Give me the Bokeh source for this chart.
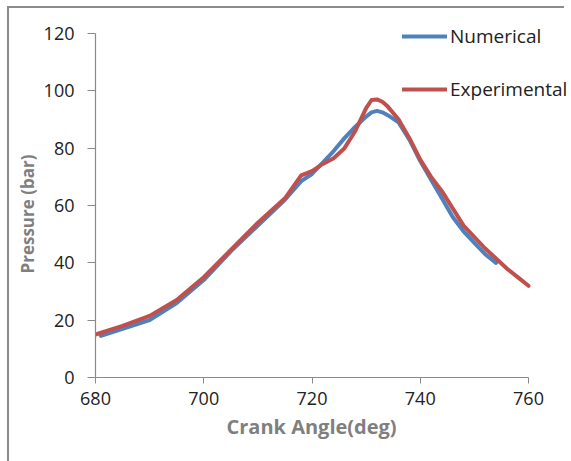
from bokeh.plotting import figure
from bokeh.models import FixedTicker, Range1d, Legend, LegendItem, Title
from bokeh.embed import file_html
from bokeh.resources import INLINE

# Numerical (simulation) pressure vs crank angle
num_angle = [681, 685, 690, 695, 700, 705, 710, 715, 718, 720, 722, 724, 726, 728,
             730, 731, 732, 733, 734, 736, 738, 740, 742, 744, 746, 748, 750, 752, 754]
num_pressure = [14.5, 17.0, 20.0, 26.0, 34.0, 44.0, 53.0, 62.0, 68.5, 71.0, 75.0, 79.0, 83.5, 87.5,
                91.0, 92.5, 93.0, 92.5, 91.5, 89.0, 83.0, 75.5, 69.0, 62.5, 56.0, 51.0, 47.0, 43.0, 40.0]

# Experimental pressure vs crank angle
exp_angle = [680, 685, 690, 695, 700, 705, 710, 715, 718, 720, 722, 724, 726, 728,
             730, 731, 732, 733, 734, 736, 738, 740, 742, 744, 746, 748, 750, 752, 754, 756, 758, 760]
exp_pressure = [15.0, 18.0, 21.5, 27.0, 35.0, 44.5, 54.0, 62.5, 70.5, 72.0, 74.5, 76.5, 80.0, 86.0,
                94.0, 96.8, 97.0, 96.2, 94.5, 90.0, 83.5, 76.0, 70.0, 65.0, 59.0, 53.0, 49.0, 45.0, 41.5, 38.0, 35.0, 32.0]

x_ticks = [680, 700, 720, 740, 760]
y_ticks = [0, 20, 40, 60, 80, 100, 120]

FONT = "Open Sans"

# the axes cover 680..760 and 0..120; the plotting frame is a little larger
# (right and top) so that the legend text is not cut off by it
px_per_deg = 433 / 80
px_per_bar = 344 / 120
x_end = 680 + (571 - 95) / px_per_deg
y_end = 120 + (33 - 6) / px_per_bar

p = figure(width=562, height=455, output_backend="svg", toolbar_location=None,
           x_range=Range1d(680, x_end), y_range=Range1d(0, y_end),
           min_border_left=86, min_border_right=0, min_border_top=0, min_border_bottom=84)
p.styles = {"margin-left": "7px", "margin-top": "6px",
            "border-left": "2px solid #8c8c8c",
            "background": "linear-gradient(#8c8c8c, #8c8c8c) top left / 555px 2px no-repeat"}

p.grid.visible = False
p.outline_line_color = None
p.background_fill_alpha = 0
p.border_fill_alpha = 0

for ax in (p.xaxis[0], p.yaxis[0]):
    ax.axis_line_color = "#8a8a8a"
    ax.axis_line_width = 1.2
    ax.major_tick_line_color = "#8a8a8a"
    ax.major_tick_in = 0
    ax.minor_tick_line_color = None
    ax.major_label_text_font = FONT
    ax.major_label_text_font_size = "18px"
    ax.major_label_text_color = "#222222"

p.xaxis[0].bounds = (680, 760)
p.yaxis[0].bounds = (0, 120)
p.xaxis[0].ticker = FixedTicker(ticks=x_ticks)
p.yaxis[0].ticker = FixedTicker(ticks=y_ticks)
p.xaxis[0].major_tick_out = 6
p.yaxis[0].major_tick_out = 8
p.xaxis[0].major_label_standoff = 8
p.yaxis[0].major_label_standoff = 13

x_title = Title(text="Crank Angle(deg)", align="left", offset=131, standoff=6,
                text_font=FONT, text_font_size="20px", text_font_style="bold",
                text_color="#7f7f7f")
y_title = Title(text="Pressure (bar)", align="left", offset=104, standoff=4,
                text_font=FONT, text_font_size="17px", text_font_style="bold",
                text_color="#7f7f7f")
p.add_layout(x_title, "below")
p.add_layout(y_title, "left")

r_num = p.line(num_angle, num_pressure, line_color="#4F81BD", line_width=4, line_join="round", line_cap="round")
r_exp = p.line(exp_angle, exp_pressure, line_color="#C0504D", line_width=4, line_join="round", line_cap="round")

legend = Legend(items=[LegendItem(label="Numerical", renderers=[r_num]),
                       LegendItem(label="Experimental", renderers=[r_exp])],
                location=(307, 275), orientation="vertical",
                glyph_width=45, glyph_height=20, label_height=20, spacing=27,
                label_standoff=3, padding=0, margin=0,
                border_line_color=None, background_fill_alpha=0,
                label_text_font=FONT, label_text_font_size="19px", label_text_color="#222222")
p.add_layout(legend)

open("out.html", "w").write(file_html(p, INLINE))
